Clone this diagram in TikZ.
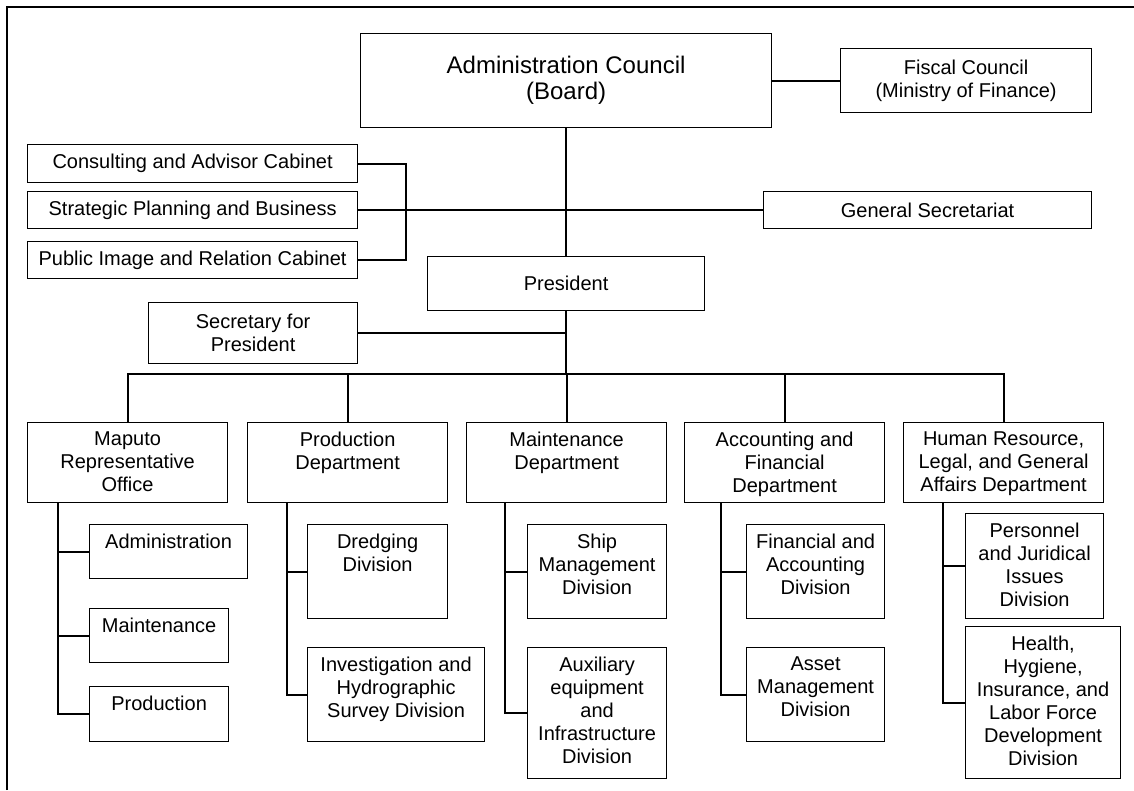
\documentclass[tikz,border=0pt]{standalone}
\usepackage{fontspec}
\setmainfont{Liberation Sans}

\begin{document}
\begin{tikzpicture}[x=1pt,y=-1pt,
	box/.style={draw,line width=1.2pt,anchor=north west,inner sep=0pt,align=center,
		font=\fontsize{20}{23}\selectfont},
	dept/.style={box,minimum width=200pt,minimum height=80pt},
	toptext/.style={anchor=north,align=center,inner sep=0pt,yshift=-10pt,
		font=\fontsize{20}{23}\selectfont},
	link/.style={draw,line width=2pt}]

	\useasboundingbox (0,0) rectangle (1134,790);
	\draw[line width=2.5pt] (7,790) -- (7,7) -- (1134,7);

	% board and staff
	\node[box,minimum width=411pt,minimum height=94pt,font=\fontsize{24}{26}\selectfont] (board) at (360,33) {Administration Council\\(Board)};
	\node[box,minimum width=251pt,minimum height=64pt] (fiscal) at (840,48) {Fiscal Council\\(Ministry of Finance)};
	\node[box,minimum width=330pt,minimum height=38pt] (cabinet) at (27,144) {Consulting and Advisor Cabinet};
	\node[box,minimum width=330pt,minimum height=37pt] (planning) at (27,191) {Strategic Planning and Business};
	\node[box,minimum width=330pt,minimum height=37pt] (image) at (27,241) {Public Image and Relation Cabinet};
	\node[box,minimum width=328pt,minimum height=37pt] (secretariat) at (763,191) {General Secretariat};
	\node[box,minimum width=277pt,minimum height=54pt] (president) at (427,256) {President};
	\node[box,minimum width=209pt,minimum height=61pt] (secretary) at (148,302) {Secretary for\\President};

	\draw[link] (board.east) -- (fiscal.west);
	\draw[link] (board.south) -- (president.north);
	\draw[link] (cabinet.east) -- ++(48,0) |- (image.east);
	\draw[link] (planning.east) -- (secretariat.west);
	\draw[link] (secretary.east) -- (secretary.east -| president.south);

	% departments
	\node[dept,label={[toptext]north:{Maputo\\Representative\\Office}}] (maputo) at (27,422) {};
	\node[dept,label={[toptext]north:{Production\\Department}}] (production) at (247,422) {};
	\node[dept,label={[toptext]north:{Maintenance\\Department}}] (maintenance) at (466,422) {};
	\node[dept,label={[toptext]north:{Accounting and\\Financial\\Department}}] (accounting) at (684,422) {};
	\node[dept,label={[toptext]north:{Human Resource,\\Legal, and General\\Affairs Department}}] (resource) at (903,422) {};

	\draw[link] (president.south) -- ++(0,64);
	\draw[link] (maputo.north) -- ++(0,-48) -| (resource.north);
	\foreach \d in {production,maintenance,accounting}
		\draw[link] (\d.north) -- ++(0,-48);

	% divisions
	\node[box,minimum width=158pt,minimum height=54pt,label={[toptext]north:Administration}] (madmin) at (89,524) {};
	\node[box,minimum width=139pt,minimum height=54pt,label={[toptext]north:Maintenance}] (mmaint) at (89,608) {};
	\node[box,minimum width=139pt,minimum height=55pt,label={[toptext]north:Production}] (mprod) at (89,686) {};

	\node[box,minimum width=140pt,minimum height=94pt,label={[toptext]north:{Dredging\\Division}}] (dredging) at (307,524) {};
	\node[box,minimum width=177pt,minimum height=94pt,label={[toptext]north:{Investigation and\\Hydrographic\\Survey Division}}] (survey) at (307,647) {};

	\node[box,minimum width=139pt,minimum height=94pt,label={[toptext]north:{Ship\\Management\\Division}}] (ship) at (527,524) {};
	\node[box,minimum width=139pt,minimum height=131pt,label={[toptext]north:{Auxiliary\\equipment\\and\\Infrastructure\\Division}}] (auxiliary) at (527,647) {};

	\node[box,minimum width=138pt,minimum height=94pt,label={[toptext]north:{Financial and\\Accounting\\Division}}] (finance) at (746,524) {};
	\node[box,minimum width=138pt,minimum height=94pt,label={[toptext]north:{Asset\\Management\\Division}}] (asset) at (746,647) {};

	\node[box,minimum width=138pt,minimum height=105pt,label={[toptext]north:{Personnel\\and Juridical\\Issues\\Division}}] (personnel) at (965,513) {};
	\node[box,minimum width=155pt,minimum height=152pt,label={[toptext]north:{Health,\\Hygiene,\\Insurance, and\\Labor Force\\Development\\Division}}] (health) at (965,626) {};

	\foreach \k in {madmin,mmaint,mprod}
		\draw[link] ([xshift=31pt]maputo.south west) |- (\k.west);
	\foreach \k in {dredging,survey}
		\draw[link] ([xshift=40pt]production.south west) |- (\k.west);
	\foreach \k in {ship,auxiliary}
		\draw[link] ([xshift=39pt]maintenance.south west) |- (\k.west);
	\foreach \k in {finance,asset}
		\draw[link] ([xshift=37pt]accounting.south west) |- (\k.west);
	\foreach \k in {personnel,health}
		\draw[link] ([xshift=40pt]resource.south west) |- (\k.west);

\end{tikzpicture}
\end{document}
